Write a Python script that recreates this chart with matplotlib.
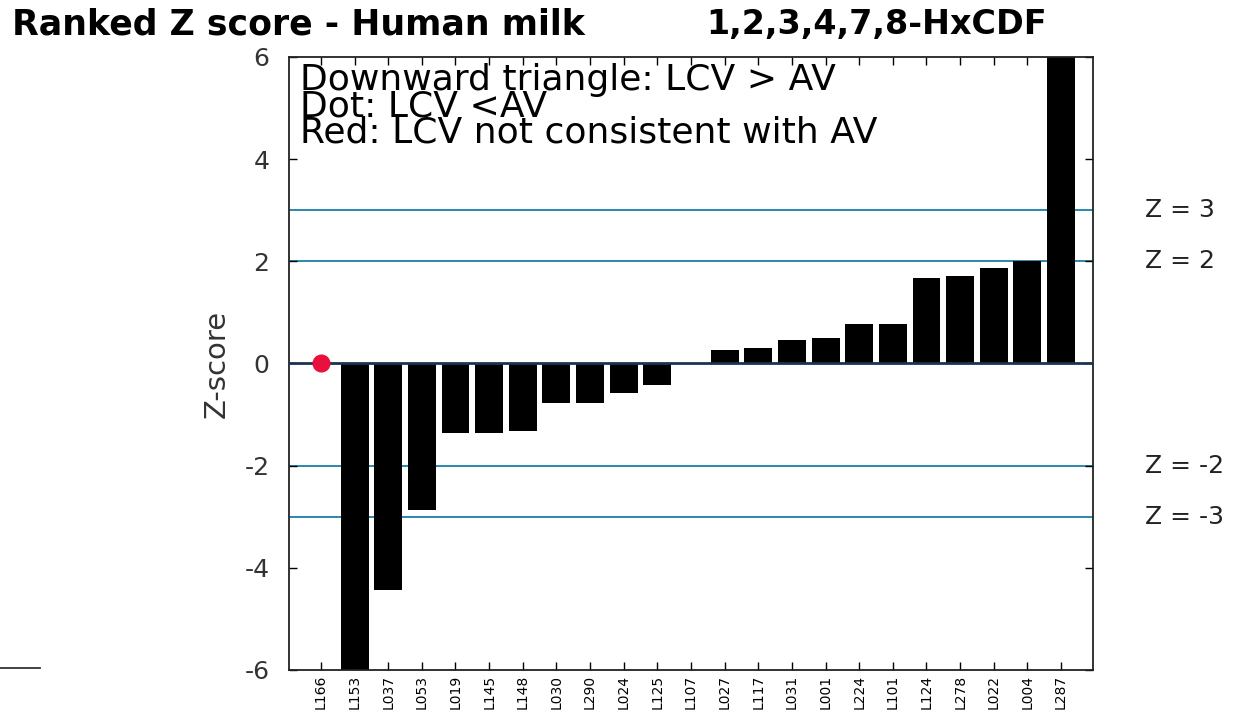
import matplotlib
matplotlib.use("Agg")
import matplotlib.pyplot as plt
import numpy as np

plt.rcParams['font.family'] = ['DejaVu Sans']

labs = ['L166', 'L153', 'L037', 'L053', 'L019', 'L145', 'L148', 'L030', 'L290', 'L024', 'L125', 'L107',
        'L027', 'L117', 'L031', 'L001', 'L224', 'L101', 'L124', 'L278', 'L022', 'L004', 'L287']
zvals = [0, -7.5, -4.43, -2.87, -1.36, -1.36, -1.32, -0.77, -0.77, -0.58, -0.42, 0,
         0.26, 0.30, 0.46, 0.50, 0.77, 0.77, 1.67, 1.71, 1.87, 2.0, 8.0]
redlab = ['L166']
limits = [3, 2, -2, -3]

fig = plt.figure(figsize=(12.37, 7.24), dpi=100, facecolor='white')
ax = fig.add_axes([0.2336, 0.0746, 0.65, 0.8467])

x = np.arange(len(labs))
ax.bar(x, zvals, width=0.83, color='black', zorder=2)
for i, l in enumerate(labs):
    if l in redlab:
        ax.plot(i, zvals[i], 'o', color='#e8103c', markersize=12, zorder=4)

for z in limits:
    ax.axhline(z, color='#1a7fa6', lw=1.3, zorder=1)
    ax.text(1.065, (z + 6) / 12, 'Z = %d' % z, transform=ax.transAxes, fontsize=18,
            va='center', ha='left', color='#222222')
ax.axhline(0, color='#1b3350', lw=2, zorder=3)

ax.set_xlim(-0.95, len(labs) - 0.05)
ax.set_ylim(-6, 6)
ax.set_yticks(np.arange(-6, 7, 2))
ax.set_yticklabels([str(v) for v in range(-6, 7, 2)], fontsize=18, color='#333333')
ax.set_xticks(x)
ax.set_xticklabels(labs, rotation=90, fontsize=10)
ax.tick_params(direction='in', top=True, right=True, length=6, width=1)
ax.tick_params(axis='y', pad=14)
for s in ax.spines.values():
    s.set_linewidth(1.3)
    s.set_color('#222222')
ax.set_ylabel('Z-score', fontsize=21, color='#333333', labelpad=10)

ax.text(0.014, 0.99, 'Downward triangle: LCV > AV\nDot: LCV <AV\nRed: LCV not consistent with AV',
        transform=ax.transAxes, fontsize=26, va='top', ha='left', linespacing=0.72)

fig.text(0.01, 0.953, 'Ranked Z score - Human milk', fontsize=25, fontweight='bold')
fig.text(0.571, 0.953, '1,2,3,4,7,8-HxCDF', fontsize=24, fontweight='bold')
fig.add_artist(plt.Line2D([0, 0.032], [0.077, 0.077], color='#333333', lw=1.3))

fig.savefig('out.png', dpi=100)
